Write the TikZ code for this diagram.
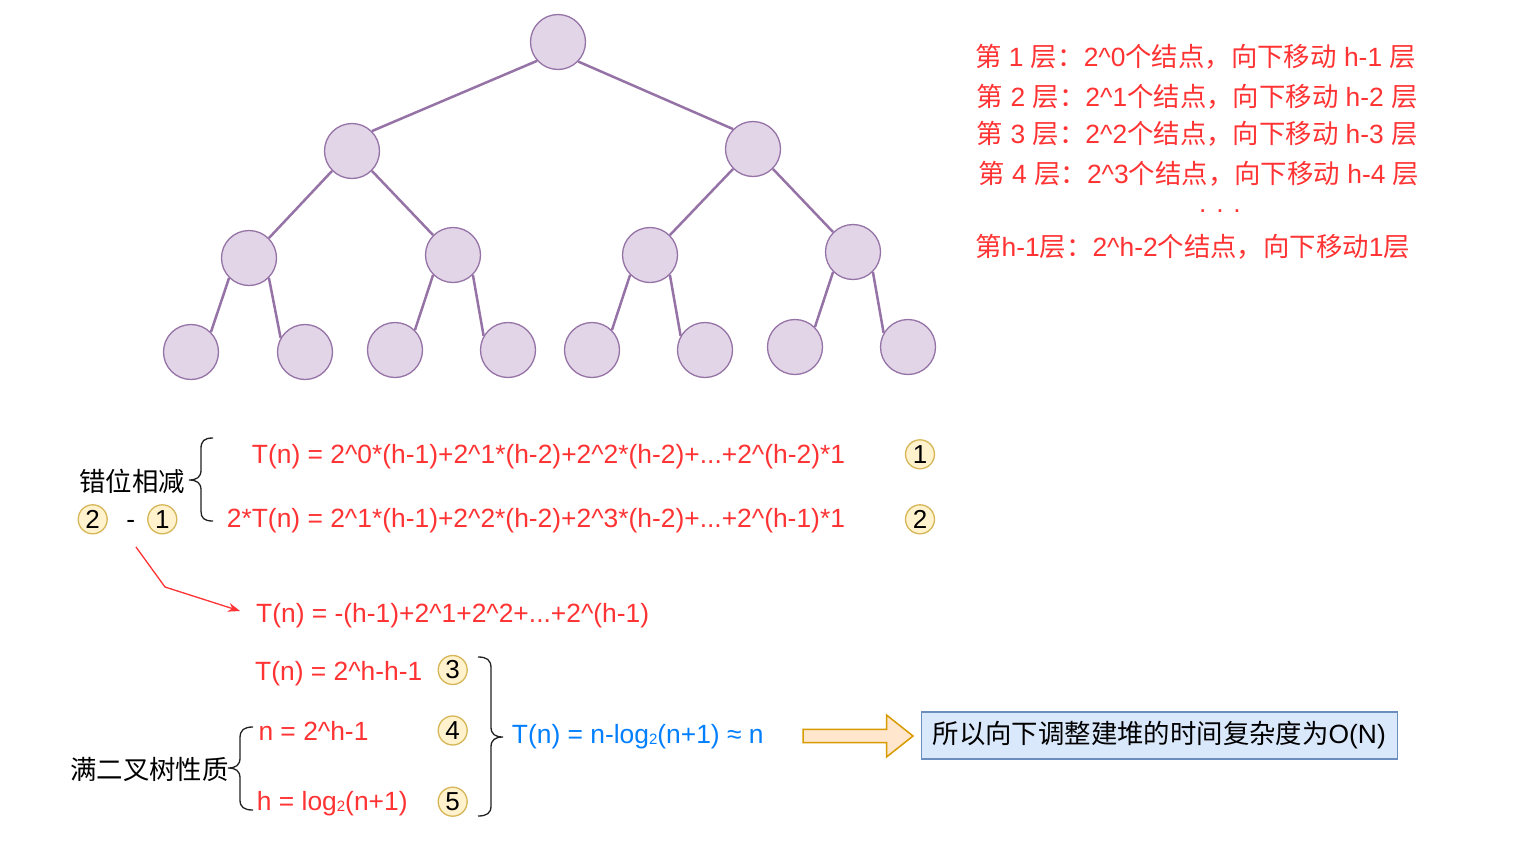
\documentclass[tikz,border=0pt]{standalone}
\usepackage{fontspec}
\setmainfont{Liberation Sans}
\newfontfamily\cjk{Noto Sans CJK SC}
\newcommand\zh[1]{{\cjk #1}}
\newcommand\ca{\textasciicircum}
\newcommand\sbtwo{\raisebox{-1pt}{\fontsize{15}{15}\selectfont 2}}
\usetikzlibrary{arrows.meta}
\definecolor{nodefill}{HTML}{E1D5E7}
\definecolor{nodedraw}{HTML}{9673A6}
\definecolor{numfill}{HTML}{FFF2CC}
\definecolor{numdraw}{HTML}{D6B656}
\definecolor{redtxt}{HTML}{FF3333}
\definecolor{bluetxt}{HTML}{007FFF}
\definecolor{arrfill}{HTML}{FFE6CC}
\definecolor{arrdraw}{HTML}{D79B00}
\definecolor{boxfill}{HTML}{DAE8FC}
\definecolor{boxdraw}{HTML}{6C8EBF}
\definecolor{bracecol}{HTML}{222222}
\begin{document}
\begin{tikzpicture}[x=1pt,y=-1pt,
  tn/.style={circle, minimum size=55pt, inner sep=0pt, fill=nodefill, draw=nodedraw, line width=1.3pt},
  edge/.style={draw=nodedraw, line width=2.5pt},
  txt/.style={anchor=base west, inner sep=0pt, font=\fontsize{26.4}{31}\selectfont},
  rtxt/.style={txt, text=redtxt},
  btxt/.style={txt, text=bluetxt},
  num/.style={circle, minimum size=29pt, inner sep=0pt, fill=numfill, draw=numdraw, line width=1.3pt, font=\fontsize{26}{31}\selectfont},
  brace/.style={draw=bracecol, line width=1.3pt}
]
\useasboundingbox (0,0) rectangle (1540,863);
\fill[white] (0,0) rectangle (1540,863);

% tree
\node[tn] (r) at (558,42) {};
\node[tn] (a) at (352,151) {};
\node[tn] (b) at (753,149) {};
\node[tn] (aa) at (249,258) {};
\node[tn] (ab) at (453,255) {};
\node[tn] (ba) at (650,255) {};
\node[tn] (bb) at (853,252) {};
\node[tn] (aaa) at (191,352) {};
\node[tn] (aab) at (305,352) {};
\node[tn] (aba) at (395,350) {};
\node[tn] (abb) at (508,350) {};
\node[tn] (baa) at (592,350) {};
\node[tn] (bab) at (705,350) {};
\node[tn] (bba) at (795,347) {};
\node[tn] (bbb) at (908,347) {};
\draw[edge] (r.-138) -- (a.45);
\draw[edge] (r.-44) -- (b.135);
\draw[edge] (a.-135) -- (aa.45);
\draw[edge] (a.-45) -- (ab.135);
\draw[edge] (b.-135) -- (ba.45);
\draw[edge] (b.-45) -- (bb.135);
\draw[edge] (aa.-135) -- (aaa.45);
\draw[edge] (aa.-45) -- (aab.150);
\draw[edge] (ab.-135) -- (aba.45);
\draw[edge] (ab.-45) -- (abb.150);
\draw[edge] (ba.-135) -- (baa.45);
\draw[edge] (ba.-45) -- (bab.150);
\draw[edge] (bb.-135) -- (bba.45);
\draw[edge] (bb.-45) -- (bbb.150);

% top right text
\node[rtxt] (l1) at (975,66.5) {\zh{第} 1 \zh{层：}2\ca0\zh{个结点，向下移动} h-1 \zh{层}};
\node[rtxt] (l2) at (976.7,106) {\zh{第} 2 \zh{层：}2\ca1\zh{个结点，向下移动} h-2 \zh{层}};
\node[rtxt] (l3) at (976.7,143) {\zh{第} 3 \zh{层：}2\ca2\zh{个结点，向下移动} h-3 \zh{层}};
\node[rtxt] (l4) at (978.3,183) {\zh{第} 4 \zh{层：}2\ca3\zh{个结点，向下移动} h-4 \zh{层}};
\node[rtxt] (l5) at (1199,212) {. . .};
\node[rtxt] (l6) at (975,256.5) {\zh{第}h-1\zh{层：}2\ca h-2\zh{个结点，向下移动}1\zh{层}};

% subtraction
\node[txt] (cw) at (79.3,491) {\zh{错位相减}};
\node[num] (m2) at (92.7,519.3) {2};
\node[txt, anchor=base] (minus) at (130.7,528) {-};
\node[num] (m1) at (162.3,519.3) {1};
\draw[brace] (213,438) .. controls (204,438) and (201,441) .. (201,449) -- (201,470) .. controls (201,477) and (197,480) .. (189,480) .. controls (197,480) and (201,483) .. (201,490) -- (201,511) .. controls (201,518) and (204,521) .. (213,521);
\node[rtxt] (f1) at (251.7,463.3) {T(n) = 2\ca0*(h-1)+2\ca1*(h-2)+2\ca2*(h-2)+...+2\ca(h-2)*1};
\node[rtxt] (f2) at (226.7,527.3) {2*T(n) = 2\ca1*(h-1)+2\ca2*(h-2)+2\ca3*(h-2)+...+2\ca(h-1)*1};
\node[num] (c1) at (920,454.3) {1};
\node[num] (c2) at (920,519.3) {2};

% arrow
\coordinate (arS) at (136,547);
\coordinate (arB) at (165,587);
\coordinate (arE) at (240,611);
\draw[draw=redtxt, line width=1.3pt, -{Stealth[length=12pt,width=9pt]}] (arS) -- (arB) -- (arE);
\node[rtxt] (f3) at (256,622) {T(n) = -(h-1)+2\ca1+2\ca2+...+2\ca(h-1)};

% lower part
\node[rtxt] (f4) at (255,680) {T(n) = 2\ca h-h-1};
\node[num] (c3) at (452.7,670) {3};
\node[rtxt] (f5) at (258.3,740) {n = 2\ca h-1};
\node[num] (c4) at (452.7,730.5) {4};
\node[rtxt] (f6) at (256.7,810) {h = log\sbtwo(n+1)};
\node[num] (c5) at (452.7,801.7) {5};
\node[txt] (mp) at (70,779) {\zh{满二叉树性质}};
\draw[brace] (253,727) .. controls (244,727) and (240,730) .. (240,738) -- (240,758) .. controls (240,765) and (236,768) .. (228,768) .. controls (236,768) and (240,771) .. (240,778) -- (240,800) .. controls (240,807) and (244,810) .. (253,810);
\draw[brace] (478,657) .. controls (487,657) and (491,660) .. (491,668) -- (491,727) .. controls (491,734) and (495,737) .. (503,737) .. controls (495,737) and (491,740) .. (491,747) -- (491,806) .. controls (491,813) and (487,816) .. (478,816);
\node[btxt] (res) at (511.7,743.3) {T(n) = n-log\sbtwo(n+1) ≈ n};

% block arrow
\draw[fill=arrfill, draw=arrdraw, line width=1.5pt, line join=miter] (803,729.3) -- (886.5,729.3) -- (886.5,715) -- (913,736) -- (886.5,757) -- (886.5,742.7) -- (803,742.7) -- cycle;

% conclusion box
\node[draw=boxdraw, fill=boxfill, line width=1.3pt, minimum width=476pt, minimum height=47pt, inner sep=0pt, font=\fontsize{26.4}{31}\selectfont] (box) at (1159.2,735.5) {\zh{所以向下调整建堆的时间复杂度为}O(N)};
\end{tikzpicture}
\end{document}
